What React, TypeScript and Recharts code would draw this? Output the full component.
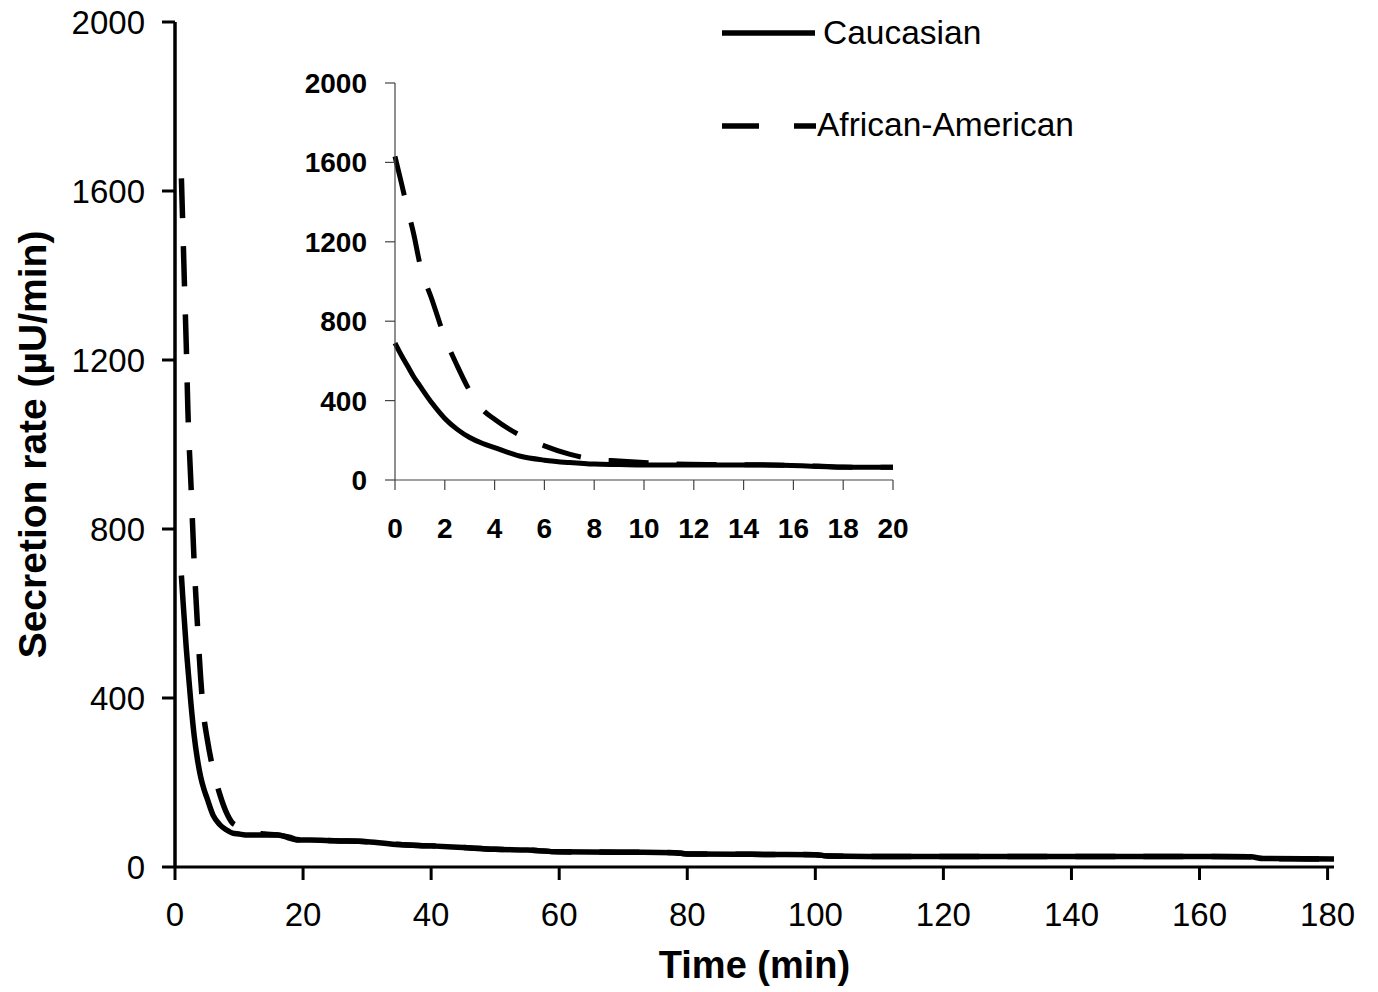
import { LineChart, Line, XAxis, YAxis, Legend } from 'recharts'

const FONT = 'Arial, "Liberation Sans", sans-serif'

// sample times (min) on the main time axis
const minutes = [
  1, 1.25, 1.5, 1.75, 2, 2.5, 3, 3.5, 4, 4.5, 5, 6, 7, 8, 9, 10, 11, 12, 14, 16, 18, 19, 21,
  25, 30, 35, 40, 45, 50, 55, 60, 70, 78, 80, 90, 100, 102, 110, 120, 130, 140, 150, 160,
  168, 170, 181,
]
const caucasian = [
  690, 630, 575, 520, 474, 385, 310, 255, 214, 185, 163, 121, 100, 88, 80, 78, 76, 76, 76,
  76, 68, 64, 64, 62, 60, 53, 50, 46, 42, 40, 36, 35, 34, 31, 30, 29, 26, 25, 25, 25, 25,
  25, 25, 24, 20, 19,
]
const africanAmerican = [
  1630, 1500, 1366, 1240, 1088, 903, 718, 575, 449, 357, 306, 227, 172, 130, 104, 96, 88,
  82, 78, 76, 70, 65, 64, 62, 60, 53, 50, 46, 42, 40, 36, 35, 34, 31, 30, 29, 26, 25, 25,
  25, 25, 25, 25, 24, 20, 19,
]

const mainXTicks = [0, 20, 40, 60, 80, 100, 120, 140, 160, 180]
const yTicks = [0, 400, 800, 1200, 1600, 2000]
const insetXTicks = [0, 2, 4, 6, 8, 10, 12, 14, 16, 18, 20]
// inset time starts at the first sample
const INSET_SHIFT = 1

const data = minutes.map((t, i) => ({
  t,
  insetT: t - INSET_SHIFT,
  caucasian: caucasian[i],
  africanAmerican: africanAmerican[i],
}))
const insetData = data.filter((d) => d.insetT <= 20)

function LegendBox() {
  return (
    <svg width={420} height={160} style={{ display: 'block' }}>
      <line x1={4} y1={33} x2={97} y2={33} stroke="#000" strokeWidth={5.5} />
      <text x={105} y={35} fontSize={33.5} fontFamily={FONT} dominantBaseline="middle" fill="#000">
        Caucasian
      </text>
      <line x1={4} y1={126} x2={98} y2={126} stroke="#000" strokeWidth={5.5} strokeDasharray="37 35" />
      <text x={99} y={127} fontSize={33.5} fontFamily={FONT} dominantBaseline="middle" fill="#000">
        African-American
      </text>
    </svg>
  )
}

export default function App() {
  return (
    <div style={{ position: 'absolute', left: 0, top: 0, width: 1378, height: 992, background: '#fff' }}>
      <LineChart
        width={1378}
        height={992}
        data={data}
        margin={{ top: 22, right: 44, bottom: 0, left: 0 }}
      >
        <XAxis
          dataKey="t"
          type="number"
          domain={[0, 180]}
          ticks={mainXTicks}
          height={125}
          tickSize={13}
          tickMargin={23}
          axisLine={{ stroke: '#000', strokeWidth: 3 }}
          tickLine={{ stroke: '#000', strokeWidth: 3 }}
          tick={{ fill: '#000', fontSize: 33, fontFamily: FONT }}
          label={{
            value: 'Time (min)',
            position: 'insideBottom',
            offset: 14,
            style: { fontSize: 38, fontWeight: 'bold', fontFamily: FONT, fill: '#000' },
          }}
        />
        <YAxis
          type="number"
          domain={[0, 2000]}
          ticks={yTicks}
          width={175}
          tickSize={13}
          tickMargin={17}
          axisLine={{ stroke: '#000', strokeWidth: 3.5 }}
          tickLine={{ stroke: '#000', strokeWidth: 3 }}
          tick={{ fill: '#000', fontSize: 33, fontFamily: FONT }}
          label={{
            value: 'Secretion rate (µU/min)',
            angle: -90,
            position: 'insideLeft',
            offset: 32,
            textAnchor: 'middle',
            style: { textAnchor: 'middle', fontSize: 39, fontWeight: 'bold', fontFamily: FONT, fill: '#000' },
          }}
        />
        <Legend
          layout="horizontal"
          verticalAlign="middle"
          content={() => <LegendBox />}
          wrapperStyle={{ left: 718, top: 0, width: 420, height: 160 }}
        />
        <Line
          type="monotone"
          dataKey="caucasian"
          stroke="#000"
          strokeWidth={5.5}
          dot={false}
          activeDot={false}
          isAnimationActive={false}
        />
        <Line
          type="monotone"
          dataKey="africanAmerican"
          stroke="#000"
          strokeWidth={5.5}
          strokeDasharray="40 28"
          dot={false}
          activeDot={false}
          isAnimationActive={false}
        />
      </LineChart>

      <div style={{ position: 'absolute', left: 300, top: 60 }}>
        <LineChart
          width={620}
          height={520}
          data={insetData}
          margin={{ top: 23, right: 27, bottom: 0, left: 0 }}
        >
          <XAxis
            dataKey="insetT"
            type="number"
            domain={[0, 20]}
            ticks={insetXTicks}
            height={100}
            tickSize={10}
            tickMargin={28}
            axisLine={{ stroke: '#444', strokeWidth: 1.2 }}
            tickLine={{ stroke: '#444', strokeWidth: 1.2 }}
            tick={{ fill: '#000', fontSize: 28, fontWeight: 'bold', fontFamily: FONT }}
          />
          <YAxis
            type="number"
            domain={[0, 2000]}
            ticks={yTicks}
            width={95}
            tickSize={10}
            tickMargin={18}
            axisLine={{ stroke: '#444', strokeWidth: 1.2 }}
            tickLine={{ stroke: '#444', strokeWidth: 1.2 }}
            tick={{ fill: '#000', fontSize: 28, fontWeight: 'bold', fontFamily: FONT }}
          />
          <Line
            type="monotone"
            dataKey="caucasian"
            stroke="#000"
            strokeWidth={5}
            dot={false}
            activeDot={false}
            isAnimationActive={false}
          />
          <Line
            type="monotone"
            dataKey="africanAmerican"
            stroke="#000"
            strokeWidth={5}
            strokeDasharray="40 28"
            dot={false}
            activeDot={false}
            isAnimationActive={false}
          />
        </LineChart>
      </div>
    </div>
  )
}
